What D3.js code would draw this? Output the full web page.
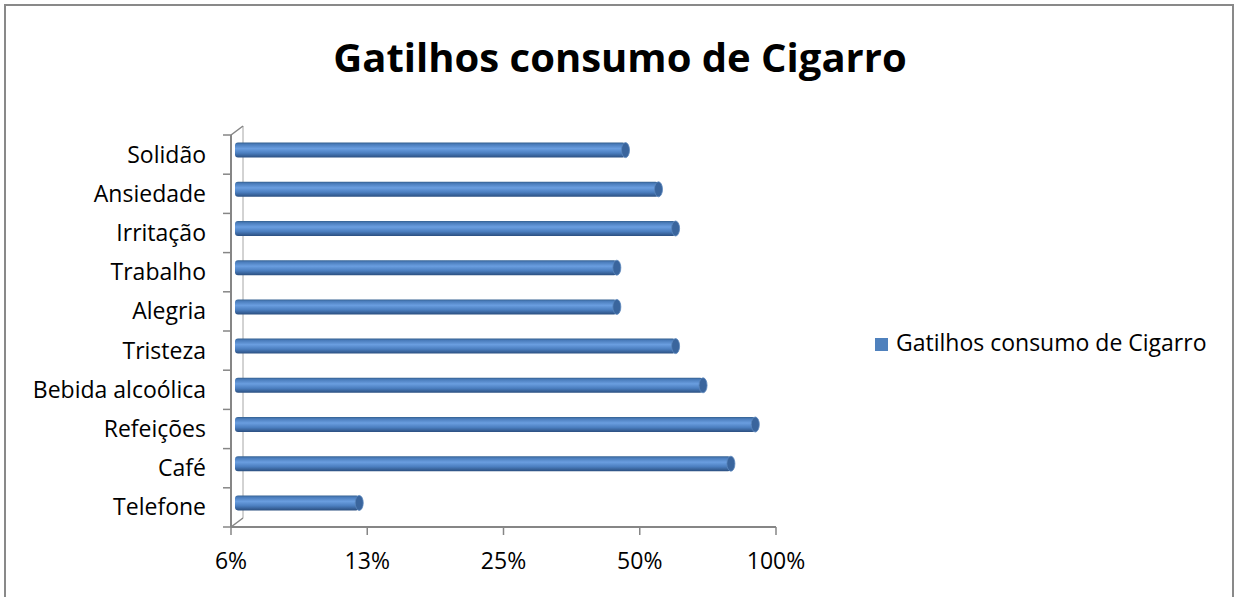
<!DOCTYPE html>
<html lang="pt">
<head>
  <meta charset="UTF-8">
  <title>Gatilhos consumo de Cigarro</title>
  <style>
    body { margin: 0; background: #fff; overflow: hidden; }
    text { font-family: "Open Sans", Lato, sans-serif; fill: #000; }
  </style>
</head>
<body>
  <script src="https://d3js.org/d3.v7.min.js"></script>
  <script>
    // dados (de cima para baixo)
    const categories = ["Solidão", "Ansiedade", "Irritação", "Trabalho", "Alegria",
                        "Tristeza", "Bebida alcoólica", "Refeições", "Café", "Telefone"];
    const values = [0.465, 0.55, 0.60, 0.445, 0.445, 0.60, 0.69, 0.90, 0.795, 0.12];
    const tickValues = [0.0625, 0.125, 0.25, 0.5, 1];
    const tickLabels = ["6%", "13%", "25%", "50%", "100%"];
    const seriesName = "Gatilhos consumo de Cigarro";
    const title = "Gatilhos consumo de Cigarro";

    const width = 1237, height = 597;
    const fs = 23;
    const svg = d3.select("body").append("svg")
      .attr("width", width)
      .attr("height", height);

    // moldura do gráfico
    svg.append("rect")
      .attr("x", 5).attr("y", 5)
      .attr("width", 1228).attr("height", 620)
      .attr("fill", "#fff")
      .attr("stroke", "#898989")
      .attr("stroke-width", 2);

    // gradiente do "cilindro"
    const defs = svg.append("defs");
    const grad = defs.append("linearGradient")
      .attr("id", "barGrad")
      .attr("x1", 0).attr("y1", 0).attr("x2", 0).attr("y2", 1);
    [[0, "#34608f"], [0.12, "#4a7cbb"], [0.4, "#6a9ee0"], [0.7, "#4b7ebf"], [1, "#2b4f80"]]
      .forEach(s => grad.append("stop").attr("offset", s[0]).attr("stop-color", s[1]));

    // área do gráfico
    const pLeft = 231, pRight = 776, pTop = 135, pBottom = 527;
    const depthX = 12, depthY = 9;

    const x = d3.scaleLog().base(2)
      .domain([tickValues[0], tickValues[tickValues.length - 1]])
      .range([pLeft, pRight]);

    const y = d3.scaleBand()
      .domain(categories)
      .range([pTop, pBottom]);

    // parede lateral (efeito 3D)
    const axisColor = "#868686";
    const wall = svg.append("g").attr("stroke", axisColor).attr("fill", "none");
    wall.append("line")
      .attr("x1", pLeft + depthX).attr("y1", pTop - depthY)
      .attr("x2", pLeft + depthX).attr("y2", pBottom - depthY)
      .attr("stroke-width", 1).attr("stroke", "#a6a6a6");
    wall.append("line")
      .attr("x1", pLeft).attr("y1", pTop)
      .attr("x2", pLeft + depthX).attr("y2", pTop - depthY)
      .attr("stroke-width", 1.5);
    wall.append("line")
      .attr("x1", pLeft).attr("y1", pBottom)
      .attr("x2", pLeft + depthX).attr("y2", pBottom - depthY)
      .attr("stroke-width", 1.5);

    // eixo Y (categorias)
    wall.append("line")
      .attr("x1", pLeft).attr("y1", pTop)
      .attr("x2", pLeft).attr("y2", pBottom)
      .attr("stroke-width", 2);
    const bounds = categories.map(c => y(c)).concat([pBottom]);
    wall.selectAll(".ytick")
      .data(bounds)
      .join("line")
      .attr("x1", pLeft - 8).attr("x2", pLeft)
      .attr("y1", d => d).attr("y2", d => d)
      .attr("stroke-width", 1.5);

    svg.append("g").selectAll("text")
      .data(categories)
      .join("text")
      .attr("x", 206)
      .attr("y", d => y(d) + y.bandwidth() / 2 + 8)
      .attr("text-anchor", "end")
      .attr("font-size", fs)
      .text(d => d);

    // eixo X (escala log base 2)
    wall.append("line")
      .attr("x1", pLeft).attr("y1", pBottom)
      .attr("x2", pRight).attr("y2", pBottom)
      .attr("stroke-width", 2);
    wall.selectAll(".xtick")
      .data(tickValues)
      .join("line")
      .attr("x1", d => x(d)).attr("x2", d => x(d))
      .attr("y1", pBottom).attr("y2", pBottom + 8)
      .attr("stroke-width", 1.5);

    svg.append("g").selectAll("text")
      .data(tickValues)
      .join("text")
      .attr("x", d => x(d))
      .attr("y", 569)
      .attr("text-anchor", "middle")
      .attr("font-size", fs)
      .text((d, i) => tickLabels[i]);

    // barras
    const barH = 15, capRx = 4, offX = 4, offY = -4.5;
    const bars = svg.append("g").selectAll("g")
      .data(categories.map((c, i) => ({ cat: c, v: values[i] })))
      .join("g")
      .attr("transform", d => `translate(0,${y(d.cat) + y.bandwidth() / 2 + offY})`);

    bars.append("rect")
      .attr("x", pLeft + offX)
      .attr("y", -barH / 2)
      .attr("width", d => x(d.v) - pLeft - offX)
      .attr("height", barH)
      .attr("rx", 3)
      .attr("fill", "url(#barGrad)");

    bars.append("ellipse")
      .attr("cx", d => x(d.v))
      .attr("cy", 0)
      .attr("rx", capRx)
      .attr("ry", barH / 2)
      .attr("fill", "#3a659d")
      .attr("stroke", "#5a86bd")
      .attr("stroke-width", 0.8);

    // título
    svg.append("text")
      .attr("x", 620)
      .attr("y", 72)
      .attr("text-anchor", "middle")
      .attr("font-size", 40)
      .attr("font-weight", "bold")
      .text(title);

    // legenda
    const legend = svg.append("g").attr("transform", "translate(875,338)");
    legend.append("rect")
      .attr("width", 13).attr("height", 13)
      .attr("fill", "#4f81bd");
    legend.append("text")
      .attr("x", 21).attr("y", 13)
      .attr("font-size", fs)
      .text(seriesName);
  </script>
</body>
</html>
